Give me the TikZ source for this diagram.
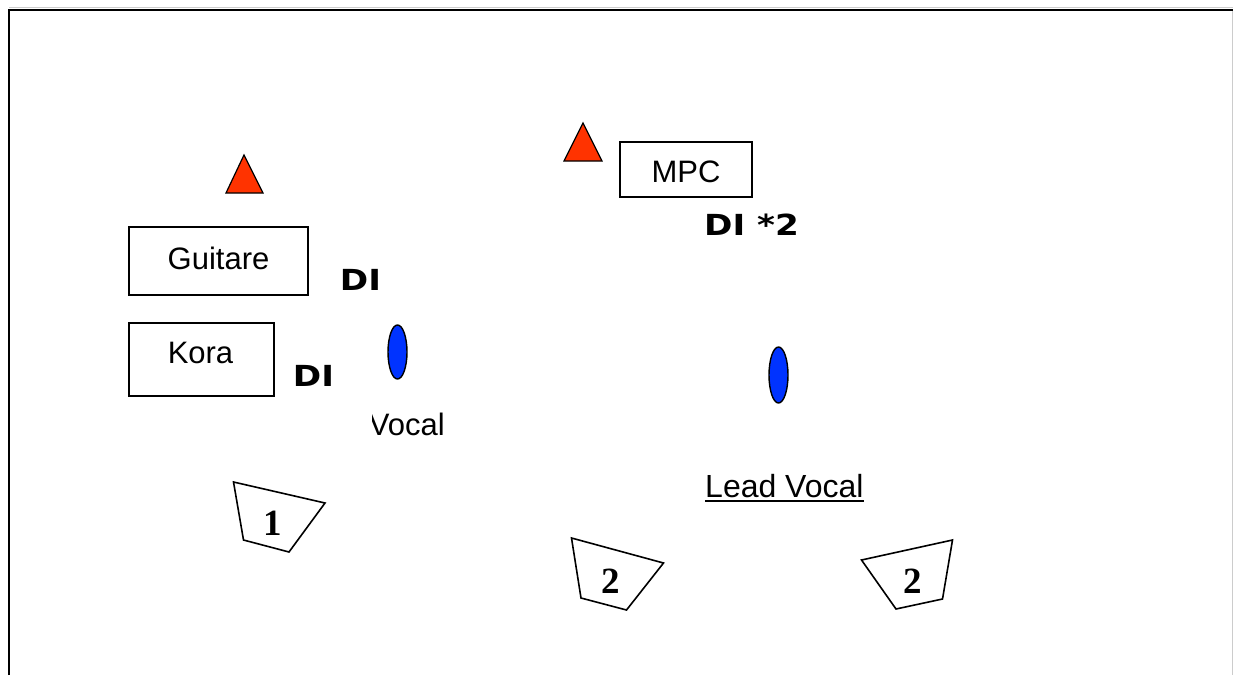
\documentclass[tikz,border=0pt]{standalone}
\usepackage{fontspec}
\usepackage{graphicx}
\usetikzlibrary{shapes.geometric}
\setmainfont{Liberation Sans}
\newfontfamily\difont{DejaVu Sans}
\newfontfamily\numfont{Liberation Serif}
\definecolor{ampred}{HTML}{FF3300}
\definecolor{micblue}{HTML}{0033FF}
\newcommand\widedi[1]{\scalebox{1.18}[1]{#1}}

\begin{document}
\begin{tikzpicture}[x=1pt,y=-1pt,
    box/.style={draw,line width=1.6pt,inner sep=0pt},
    lbl/.style={inner sep=0pt,anchor=base,font=\fontsize{31}{37}\selectfont},
    di/.style={inner sep=0pt,anchor=base,font=\fontsize{29}{34}\selectfont\difont\bfseries},
    num/.style={inner sep=0pt,anchor=base,font=\fontsize{37}{42}\selectfont\numfont\bfseries},
    mic/.style={ellipse,draw,line width=1.4pt,fill=micblue,minimum width=19pt,minimum height=54pt,inner sep=0pt},
    amp/.style={draw,line width=1.2pt,fill=ampred,line join=miter},
    spk/.style={draw,line width=1.6pt,line join=miter}]
      \useasboundingbox (0,0) rectangle (1233,675);
      \draw[black!20,line width=1pt] (9,7.5) -- (1233,7.5);
      \draw[black!20,line width=1pt] (1232,10) -- (1232,675);
      \draw[line width=1.8pt] (9,675) -- (9,10) -- (1233,10);

      \draw[amp] (226,193) -- (244,155) -- (263,193) -- cycle;
      \draw[amp] (564,161) -- (583,123) -- (602,161) -- cycle;

      \node[box,minimum width=179pt,minimum height=68pt] (gbox) at (218.5,261) {};
      \node[lbl] (guit) at (218.5,269) {Guitare};
      \node[box,minimum width=145pt,minimum height=73pt] (kbox) at (201.5,359.5) {};
      \node[lbl] (kora) at (200.5,363) {Kora};
      \node[box,minimum width=132pt,minimum height=55pt] (mbox) at (686,169.5) {};
      \node[lbl] (mpc) at (686,182) {MPC};

      \node[di] (di1) at (360.5,290) {\widedi{DI}};
      \node[di] (di2) at (313.5,386) {\widedi{DI}};
      \node[di] (di3) at (751.5,235) {\widedi{DI *2}};

      \node[mic] (mic1) at (397.5,352) {};
      \node[mic,minimum height=56pt] (mic2) at (778.5,375) {};

      \begin{scope}
        \clip (372,400) rectangle (460,450);
        \node[lbl,anchor=base east] (voc) at (445,435) {Vocal};
      \end{scope}
      \node[lbl,anchor=base west,font=\fontsize{32}{38}\selectfont] (lead) at (705,497) {Lead Vocal};
      \draw[line width=2.2pt] ([yshift=-4pt]lead.base west) -- ([yshift=-4pt]lead.base east);

      \draw[spk] (233.5,482) -- (325,503) -- (289,552) -- (243.5,540) -- cycle;
      \node[num] (s1) at (273,535) {1};
      \draw[spk] (571.5,538) -- (663.5,563) -- (626.5,610) -- (581,598) -- cycle;
      \node[num] (s2) at (611,593) {2};
      \draw[spk] (861.5,560) -- (952.5,540) -- (942.5,599) -- (896,609) -- cycle;
      \node[num] (s3) at (913,593) {2};
    \end{tikzpicture}
\end{document}
